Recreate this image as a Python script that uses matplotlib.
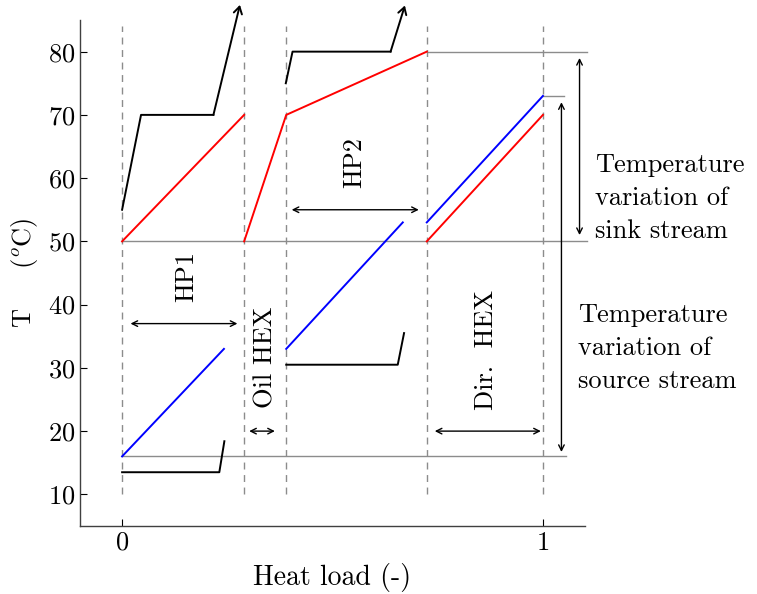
import matplotlib
matplotlib.use("Agg")
import matplotlib.pyplot as plt

plt.rcParams['font.family'] = 'cmr10'
plt.rcParams['mathtext.fontset'] = 'cm'
plt.rcParams['axes.formatter.use_mathtext'] = True

# stage boundaries (heat load, -)
bounds = [0, 0.29, 0.39, 0.724, 1.0]

# sink stream (red)
sink_hp1_x = [0, 0.29]
sink_hp1_y = [50, 70]
sink_oil_x = [0.29, 0.39, 0.724]
sink_oil_y = [50, 70, 80]
sink_dir_x = [0.724, 1.0]
sink_dir_y = [50, 70]

# source stream (blue)
src_hp1_x = [0, 0.242]
src_hp1_y = [16, 33]
src_hp2_x = [0.39, 0.667]
src_hp2_y = [33, 53]
src_dir_x = [0.724, 1.0]
src_dir_y = [53, 73]

# working fluids (black)
hp1_cond_x = [0, 0.045, 0.217, 0.28]
hp1_cond_y = [55, 70, 70, 87.4]
hp1_evap_x = [0, 0.231, 0.243]
hp1_evap_y = [13.5, 13.5, 18.4]
hp2_cond_x = [0.389, 0.405, 0.638, 0.672]
hp2_cond_y = [75, 80, 80, 87.3]
hp2_evap_x = [0.39, 0.655, 0.670]
hp2_evap_y = [30.5, 30.5, 35.5]

# reference temperatures (gray lines): (T, x start, x end)
ref_lines = [(50, 0, 1.105), (80, 0.724, 1.105), (73, 1.0, 1.05), (16, 0, 1.055)]

fig = plt.figure(figsize=(7.57, 5.94), dpi=100)
ax = fig.add_axes([0.1057, 0.1145, 0.6671, 0.8518])

for b in bounds:
    ax.plot([b, b], [10, 84], color='0.55', lw=1, dashes=(5, 4), clip_on=False)

for T, x0, x1 in ref_lines:
    ax.plot([x0, x1], [T, T], color='0.55', lw=1, clip_on=False)

for xs, ys in [(sink_hp1_x, sink_hp1_y), (sink_oil_x, sink_oil_y), (sink_dir_x, sink_dir_y)]:
    ax.plot(xs, ys, color='red', lw=1.4)
for xs, ys in [(src_hp1_x, src_hp1_y), (src_hp2_x, src_hp2_y), (src_dir_x, src_dir_y)]:
    ax.plot(xs, ys, color='blue', lw=1.4)

for xs, ys in [(hp1_cond_x, hp1_cond_y), (hp2_cond_x, hp2_cond_y)]:
    ax.plot(xs[:-1], ys[:-1], color='black', lw=1.4, clip_on=False)
    ax.annotate('', xy=(xs[-1], ys[-1]), xytext=(xs[-2], ys[-2]), annotation_clip=False,
                arrowprops=dict(arrowstyle='->,head_length=0.5,head_width=0.3', lw=1.4,
                                color='black', shrinkA=0, shrinkB=0))
for xs, ys in [(hp1_evap_x, hp1_evap_y), (hp2_evap_x, hp2_evap_y)]:
    ax.plot(xs, ys, color='black', lw=1.4)

# double arrows marking the stages and the temperature ranges
span_arrows = [((0.02, 37), (0.274, 37)), ((0.302, 20), (0.363, 20)),
               ((0.403, 55), (0.705, 55)), ((0.743, 20), (0.995, 20)),
               ((1.087, 79), (1.087, 51)), ((1.044, 72), (1.044, 16.7))]
for p0, p1 in span_arrows:
    ax.annotate('', xy=p1, xytext=p0, annotation_clip=False,
                arrowprops=dict(arrowstyle='<->,head_length=0.4,head_width=0.2', lw=1,
                                color='black', shrinkA=0, shrinkB=0))

fs = 19
ax.text(0.152, 44.5, 'HP1', rotation=90, ha='center', va='center', fontsize=fs)
ax.text(0.34, 31.7, 'Oil HEX', rotation=90, ha='center', va='center', fontsize=fs)
ax.text(0.553, 62.5, 'HP2', rotation=90, ha='center', va='center', fontsize=fs)
ax.text(0.865, 32.8, 'Dir.  HEX', rotation=90, ha='center', va='center', fontsize=fs)
ax.text(1.124, 56.9, 'Temperature\nvariation of\nsink stream', ha='left', va='center',
        fontsize=fs, linespacing=1.5, clip_on=False)
ax.text(1.083, 33.1, 'Temperature\nvariation of\nsource stream', ha='left', va='center',
        fontsize=fs, linespacing=1.5, clip_on=False)

ax.set_xlim(-0.1, 1.1)
ax.set_ylim(5, 85)
ax.set_xticks([0, 1])
ax.set_yticks(range(10, 90, 10))
ax.tick_params(direction='in', labelsize=fs, length=5, width=0.8, colors='black')
ax.set_xlabel('Heat load (-)', fontsize=fs + 1, labelpad=6)
ax.set_ylabel(r'T $\quad$ ($^o$C)', fontsize=fs, labelpad=6)
for s in ['top', 'right']:
    ax.spines[s].set_visible(False)
for s in ['left', 'bottom']:
    ax.spines[s].set_color('0.25')
    ax.spines[s].set_linewidth(1)

fig.savefig('out.png', dpi=100)
